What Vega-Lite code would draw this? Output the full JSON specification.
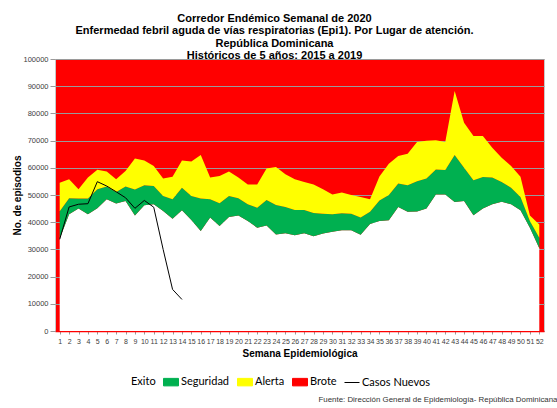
{
  "$schema": "https://vega.github.io/schema/vega-lite/v6.json",
  "background": "white",
  "padding": {"left": 12, "top": 12, "right": 0, "bottom": 0},
  "title": {
    "text": "Fuente: Dirección General  de Epidemiología- República Dominicana",
    "orient": "bottom", "anchor": "start", "dx": 306, "offset": 8,
    "font": "Liberation Sans", "fontSize": 7.9, "fontWeight": "normal", "color": "#333333"
  },
  "vconcat": [
    {
      "width": 489,
      "height": 272,
      "title": {
        "text": ["Corredor Endémico Semanal de 2020", "Enfermedad febril aguda de vías respiratorias  (Epi1). Por Lugar de atención.", "República Dominicana", "Históricos de 5 años: 2015 a 2019"],
        "font": "Liberation Sans", "fontSize": 11, "fontWeight": "bold", "lineHeight": 12.5,
        "anchor": "middle", "dx": -25, "offset": -6, "color": "#000000"
      },
      "data": {
        "values": [
          {"week": 1, "exito": 34000, "seguridad": 44000, "alerta": 54500, "casos": 33700},
          {"week": 2, "exito": 42900, "seguridad": 48800, "alerta": 55800, "casos": 45600},
          {"week": 3, "exito": 45000, "seguridad": 48700, "alerta": 52100, "casos": 46600},
          {"week": 4, "exito": 42900, "seguridad": 48700, "alerta": 56400, "casos": 46800},
          {"week": 5, "exito": 45100, "seguridad": 52100, "alerta": 59300, "casos": 54900},
          {"week": 6, "exito": 48400, "seguridad": 53100, "alerta": 58600, "casos": 53300},
          {"week": 7, "exito": 46900, "seguridad": 51100, "alerta": 55800, "casos": 51200},
          {"week": 8, "exito": 47800, "seguridad": 53100, "alerta": 58800, "casos": 49000},
          {"week": 9, "exito": 42500, "seguridad": 52000, "alerta": 63400, "casos": 45100},
          {"week": 10, "exito": 46200, "seguridad": 53600, "alerta": 62700, "casos": 48000},
          {"week": 11, "exito": 46600, "seguridad": 53300, "alerta": 60700, "casos": 45500},
          {"week": 12, "exito": 44100, "seguridad": 49600, "alerta": 56100, "casos": 30000},
          {"week": 13, "exito": 41300, "seguridad": 48400, "alerta": 56700, "casos": 15300},
          {"week": 14, "exito": 44400, "seguridad": 52700, "alerta": 62700, "casos": 11600},
          {"week": 15, "exito": 40800, "seguridad": 49600, "alerta": 62300, "casos": null},
          {"week": 16, "exito": 36800, "seguridad": 48700, "alerta": 64700, "casos": null},
          {"week": 17, "exito": 41700, "seguridad": 48400, "alerta": 56400, "casos": null},
          {"week": 18, "exito": 38600, "seguridad": 47000, "alerta": 57000, "casos": null},
          {"week": 19, "exito": 41900, "seguridad": 49600, "alerta": 58600, "casos": null},
          {"week": 20, "exito": 42500, "seguridad": 48800, "alerta": 56400, "casos": null},
          {"week": 21, "exito": 40400, "seguridad": 46600, "alerta": 53900, "casos": null},
          {"week": 22, "exito": 38000, "seguridad": 45300, "alerta": 53900, "casos": null},
          {"week": 23, "exito": 38800, "seguridad": 48200, "alerta": 59700, "casos": null},
          {"week": 24, "exito": 35500, "seguridad": 46300, "alerta": 60300, "casos": null},
          {"week": 25, "exito": 35900, "seguridad": 45600, "alerta": 57600, "casos": null},
          {"week": 26, "exito": 35200, "seguridad": 44500, "alerta": 55800, "casos": null},
          {"week": 27, "exito": 35900, "seguridad": 44500, "alerta": 54800, "casos": null},
          {"week": 28, "exito": 34800, "seguridad": 43400, "alerta": 53900, "casos": null},
          {"week": 29, "exito": 35800, "seguridad": 43100, "alerta": 52100, "casos": null},
          {"week": 30, "exito": 36500, "seguridad": 42900, "alerta": 50200, "casos": null},
          {"week": 31, "exito": 37000, "seguridad": 43300, "alerta": 50900, "casos": null},
          {"week": 32, "exito": 37000, "seguridad": 43100, "alerta": 50000, "casos": null},
          {"week": 33, "exito": 35400, "seguridad": 41700, "alerta": 49300, "casos": null},
          {"week": 34, "exito": 39300, "seguridad": 43800, "alerta": 48400, "casos": null},
          {"week": 35, "exito": 40400, "seguridad": 48000, "alerta": 56800, "casos": null},
          {"week": 36, "exito": 40700, "seguridad": 50000, "alerta": 61500, "casos": null},
          {"week": 37, "exito": 45600, "seguridad": 54200, "alerta": 64300, "casos": null},
          {"week": 38, "exito": 43800, "seguridad": 53600, "alerta": 65200, "casos": null},
          {"week": 39, "exito": 43900, "seguridad": 55100, "alerta": 69500, "casos": null},
          {"week": 40, "exito": 45000, "seguridad": 56100, "alerta": 69900, "casos": null},
          {"week": 41, "exito": 50200, "seguridad": 59400, "alerta": 70100, "casos": null},
          {"week": 42, "exito": 50200, "seguridad": 59200, "alerta": 69500, "casos": null},
          {"week": 43, "exito": 47400, "seguridad": 64700, "alerta": 88200, "casos": null},
          {"week": 44, "exito": 47800, "seguridad": 60000, "alerta": 76600, "casos": null},
          {"week": 45, "exito": 42600, "seguridad": 55400, "alerta": 71700, "casos": null},
          {"week": 46, "exito": 45000, "seguridad": 56600, "alerta": 71700, "casos": null},
          {"week": 47, "exito": 46600, "seguridad": 56400, "alerta": 67400, "casos": null},
          {"week": 48, "exito": 47500, "seguridad": 54800, "alerta": 63700, "casos": null},
          {"week": 49, "exito": 46600, "seguridad": 52700, "alerta": 60700, "casos": null},
          {"week": 50, "exito": 44400, "seguridad": 49300, "alerta": 56700, "casos": null},
          {"week": 51, "exito": 38000, "seguridad": 40400, "alerta": 42500, "casos": null},
          {"week": 52, "exito": 30400, "seguridad": 34300, "alerta": 39200, "casos": null}
        ]
      },
      "encoding": {
        "x": {
          "field": "week", "type": "quantitative",
          "scale": {"domain": [0.5, 52.5], "nice": false, "zero": false},
          "axis": {
            "values": [1,2,3,4,5,6,7,8,9,10,11,12,13,14,15,16,17,18,19,20,21,22,23,24,25,26,27,28,29,30,31,32,33,34,35,36,37,38,39,40,41,42,43,44,45,46,47,48,49,50,51,52],
            "title": "Semana Epidemiológica", "grid": false,
            "labelFont": "Liberation Sans", "labelFontSize": 7, "labelColor": "#404040",
            "labelOverlap": false, "labelFlush": false, "labelPadding": 3,
            "tickSize": 3, "tickColor": "#9a9a9a", "domainColor": "#ff0000", "domainWidth": 1.5,
            "titleFont": "Liberation Sans", "titleFontSize": 10, "titleFontWeight": "bold", "titleColor": "#000000", "titlePadding": 4
          }
        }
      },
      "layer": [
        {
          "mark": {"type": "area", "interpolate": "linear"},
          "encoding": {
            "y": {
              "field": "exito", "type": "quantitative",
              "scale": {"domain": [0, 100000], "nice": false},
              "axis": {
                "values": [0,10000,20000,30000,40000,50000,60000,70000,80000,90000,100000],
                "labelOverlap": false,
                "format": "d", "title": "No. de episodios",
                "labelFont": "Liberation Sans", "labelFontSize": 7.5, "labelColor": "#404040", "labelPadding": 2,
                "tickSize": 5, "tickColor": "#9a9a9a", "domain": false,
                "grid": true, "gridColor": "#9a9a9a", "gridWidth": 1,
                "titleFont": "Liberation Sans", "titleFontSize": 10, "titleFontWeight": "bold", "titleColor": "#000000", "titlePadding": 0
              }
            },
            "y2": {"datum": 0},
            "color": {
              "datum": "Exito", "type": "nominal",
              "scale": {"domain": ["Exito", "Seguridad", "Alerta", "Brote", "Casos Nuevos"], "range": ["#ffffff", "#00b050", "#ffff00", "#ff0000", "#000000"]},
              "legend": {
                "orient": "none", "legendX": 58, "legendY": 315, "direction": "horizontal", "title": null,
                "labelFont": "Lato", "labelFontSize": 11, "labelColor": "#000000", "labelOffset": 2, "columnPadding": 5,
                "symbolSize": 225, "symbolType": "M-1,-0.5H1V0.5H-1Z",
                "encode": {
                  "symbols": {
                    "update": {
                      "shape": [{"test": "datum.value === 'Casos Nuevos'", "value": "stroke"}, {"value": "M-1,-0.5H1V0.5H-1Z"}],
                      "fill": [{"test": "datum.value === 'Casos Nuevos'", "value": "transparent"}, {"scale": "color", "field": "value"}],
                      "stroke": [{"test": "datum.value === 'Casos Nuevos'", "value": "#000000"}, {"test": "datum.value === 'Brote'", "value": "#a00000"}, {"value": "transparent"}],
                      "strokeWidth": {"value": 1},
                      "opacity": {"value": 1}
                    }
                  }
                }
              }
            }
          }
        },
        {
          "mark": {"type": "area", "interpolate": "linear"},
          "encoding": {
            "y": {
              "field": "seguridad", "type": "quantitative",
              "axis": {"values": [0,10000,20000,30000,40000,50000,60000,70000,80000,90000,100000], "labelOverlap": false}
            },
            "y2": {"field": "exito"},
            "color": {"datum": "Seguridad", "type": "nominal"}
          }
        },
        {
          "mark": {"type": "area", "interpolate": "linear"},
          "encoding": {
            "y": {
              "field": "alerta", "type": "quantitative",
              "axis": {"values": [0,10000,20000,30000,40000,50000,60000,70000,80000,90000,100000], "labelOverlap": false}
            },
            "y2": {"field": "seguridad"},
            "color": {"datum": "Alerta", "type": "nominal"}
          }
        },
        {
          "mark": {"type": "line", "strokeWidth": 1},
          "encoding": {
            "y": {
              "field": "casos", "type": "quantitative",
              "axis": {"values": [0,10000,20000,30000,40000,50000,60000,70000,80000,90000,100000], "labelOverlap": false}
            },
            "color": {"datum": "Casos Nuevos", "type": "nominal"}
          }
        }
      ]
    }
  ],
  "config": {
    "view": {"fill": "#ff0000", "stroke": "#c8c8c8"},
    "area": {"opacity": 1},
    "concat": {"spacing": 0}
  }
}
